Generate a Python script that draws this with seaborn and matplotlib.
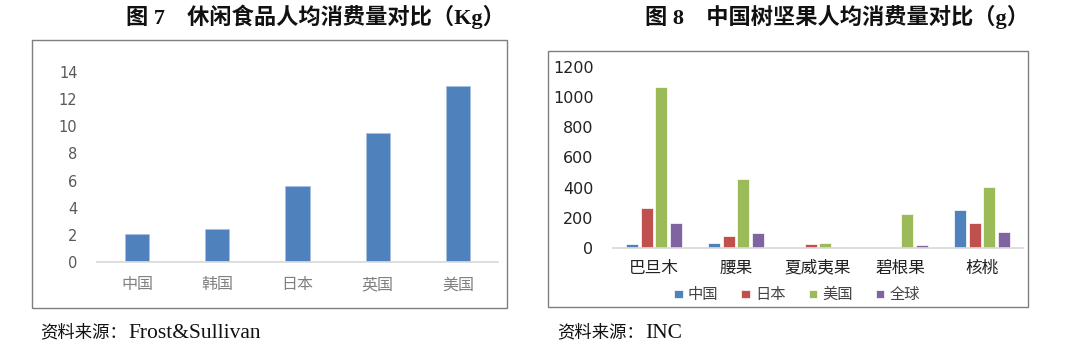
import seaborn as sns
import pandas as pd
import matplotlib.pyplot as plt
from matplotlib.patches import Rectangle

# left chart: snack food per capita (Kg)
snack_countries = ['中国', '韩国', '日本', '英国', '美国']
snack_kg = [2.1, 2.4, 5.6, 9.5, 13.0]

# right chart: tree nut per capita (g)
nuts = ['巴旦木', '腰果', '夏威夷果', '碧根果', '核桃']
nut_regions = ['中国', '日本', '美国', '全球']
nut_china = [29, 35, 0, 0, 249]
nut_japan = [262, 79, 24, 0, 167]
nut_usa = [1068, 456, 35, 225, 405]
nut_world = [167, 101, 7, 20, 108]

y1_ticks = [0, 2, 4, 6, 8, 10, 12, 14]
y2_ticks = [0, 200, 400, 600, 800, 1000, 1200]

W, H = 1080, 351
CJK = ['Noto Sans CJK SC', 'DejaVu Sans']
SERIF = ['Liberation Serif', 'Noto Sans CJK SC']
NUM = ['DejaVu Sans']

sns.set_theme(style='white')
plt.rcParams['font.family'] = CJK

fig = plt.figure(figsize=(W / 100, H / 100), dpi=100)


def px(x0, y0, x1, y1):
    return [x0 / W, 1 - y1 / H, (x1 - x0) / W, (y1 - y0) / H]


# frames around each panel
fig.patches.append(Rectangle((32 / W, 1 - 308 / H), 475 / W, 268 / H, transform=fig.transFigure,
                             fill=False, edgecolor='#7f7f7f', linewidth=1.0))
fig.patches.append(Rectangle((548 / W, 1 - 307 / H), 480 / W, 256 / H, transform=fig.transFigure,
                             fill=False, edgecolor='#7f7f7f', linewidth=1.0))

# ---- left chart
df1 = pd.DataFrame({'country': snack_countries, 'kg': snack_kg})
ax1 = fig.add_axes(px(97, 72, 498, 262))
sns.barplot(data=df1, x='country', y='kg', color='#4F81BD', width=0.3, saturation=1,
            edgecolor='#a9c1e0', linewidth=0.5, ax=ax1)
ax1.set_ylim(0, 14)
ax1.set_yticks(y1_ticks)
ax1.set_yticklabels([str(t) for t in y1_ticks], family=NUM, fontsize=10.5, color='#595959')
ax1.set_xticklabels(snack_countries, family=SERIF, fontsize=11.5, color='#808080')
ax1.tick_params(axis='y', length=0, pad=14)
ax1.tick_params(axis='x', length=0, pad=11)
ax1.set_xlabel('')
ax1.set_ylabel('')
for s in ['top', 'right', 'left']:
    ax1.spines[s].set_visible(False)
ax1.spines['bottom'].set_color('#d9d9d9')

# ---- right chart
df2 = pd.DataFrame({
    'nut': nuts * 4,
    'region': [r for r in nut_regions for _ in nuts],
    'g': nut_china + nut_japan + nut_usa + nut_world,
})
ax2 = fig.add_axes(px(613, 67, 1023, 248))
sns.barplot(data=df2, x='nut', y='g', hue='region', hue_order=nut_regions,
            palette=['#4F81BD', '#C0504D', '#9BBB59', '#8064A2'], saturation=1,
            width=0.72, gap=0.2, edgecolor='white', linewidth=0.5, ax=ax2)
ax2.set_ylim(0, 1200)
ax2.set_yticks(y2_ticks)
ax2.set_yticklabels([str(t) for t in y2_ticks], family=NUM, fontsize=11.5, color='#222222')
ax2.set_xticklabels(nuts, family=SERIF, fontsize=12, color='#222222')
ax2.tick_params(axis='y', length=0, pad=14)
ax2.tick_params(axis='x', length=0, pad=9)
ax2.set_xlabel('')
ax2.set_ylabel('')
for s in ['top', 'right', 'left']:
    ax2.spines[s].set_visible(False)
ax2.spines['bottom'].set_color('#d9d9d9')
ax2.legend(loc='center', bbox_to_anchor=(0.449, -0.26), ncol=4, frameon=False,
           handlelength=0.55, handleheight=0.45, handletextpad=0.35, columnspacing=1.5,
           prop={'family': SERIF, 'size': 11})
for t in ax2.get_legend().get_texts():
    t.set_color('#444444')

# titles and sources
fig.text(315 / W, 1 - 17 / H, '图 7　休闲食品人均消费量对比（Kg）', ha='center', va='center',
         family=SERIF, fontsize=16, weight='bold', color='#111111')
fig.text(837 / W, 1 - 17 / H, '图 8　中国树坚果人均消费量对比（g）', ha='center', va='center',
         family=SERIF, fontsize=16, weight='bold', color='#111111')
fig.text(40 / W, 1 - 333 / H, '资料来源：', ha='left', va='center',
         family=SERIF, fontsize=12.5, color='#111111')
fig.text(128 / W, 1 - 333 / H, 'Frost&Sullivan', ha='left', va='center',
         family=SERIF, fontsize=15.5, color='#111111')
fig.text(557 / W, 1 - 333 / H, '资料来源：', ha='left', va='center',
         family=SERIF, fontsize=12.5, color='#111111')
fig.text(645 / W, 1 - 333 / H, 'INC', ha='left', va='center',
         family=SERIF, fontsize=15.5, color='#111111')

fig.savefig('out.png', dpi=100)
